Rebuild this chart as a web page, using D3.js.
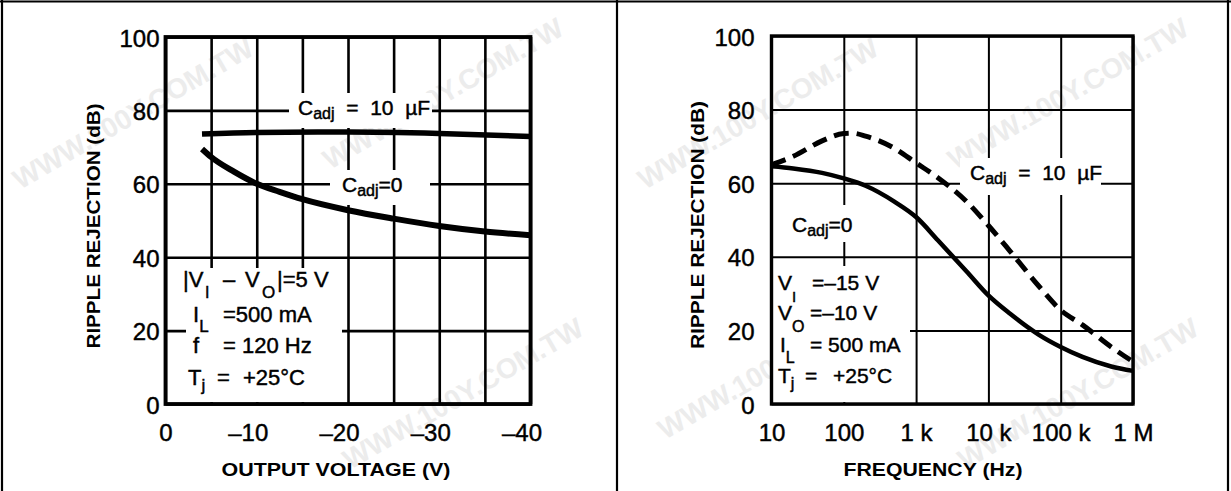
<!DOCTYPE html>
<html><head><meta charset="utf-8">
<script src="https://cdn.jsdelivr.net/npm/d3@7"></script>
<style>
body{margin:0;background:#fff}
svg{display:block}
text{font-family:"Liberation Sans",Arial,Helvetica,sans-serif;fill:#000}
.thick text, text.thick{stroke:#000;stroke-width:0.45px}
</style>
</head><body>
<svg id="c" width="1231" height="491"></svg>
<script>
// ---------------- DATA ----------------
const yTicks = [0, 20, 40, 60, 80, 100];
const voltGrid = [0, -5, -10, -15, -20, -25, -30, -35, -40];
const voltTicks = [0, -10, -20, -30, -40];
const voltTickLabels = ["0", "\u201310", "\u201320", "\u201330", "\u201340"];
// Left chart: ripple rejection vs output voltage
const volt10uF = [-4, -10, -20, -30, -40];
const rej10uF_V = [73.6, 74.0, 74.1, 73.7, 72.9];
const voltC0 = [-4, -5, -7.5, -10, -12.5, -15, -20, -25, -30, -35, -40];
const rejC0_V = [69.5, 67.3, 63.3, 60.0, 57.8, 55.8, 52.8, 50.5, 48.5, 47.0, 46.0];
// Right chart: ripple rejection vs frequency
const freqTicks = [10, 100, 1e3, 1e4, 1e5, 1e6];
const freqTickLabels = ["10", "100", "1 k", "10 k", "100 k", "1 M"];
const freqC0 = [10, 20, 50, 100, 200, 500, 1e3, 2e3, 5e3, 1e4, 2e4, 5e4, 1e5, 2e5, 5e5, 1e6];
const rejC0_F = [64.6, 64.0, 62.8, 61.3, 59.3, 55.0, 50.8, 44.5, 36.0, 29.5, 24.5, 18.8, 15.5, 12.8, 10.2, 9.0];
const freq10uF = [10, 20, 50, 100, 130, 200, 500, 1e3, 2e3, 5e3, 1e4, 2e4, 5e4, 1e5, 2e5, 5e5, 1e6];
const rej10uF_F = [65.0, 67.3, 71.5, 73.5, 73.6, 72.8, 69.5, 65.5, 61.5, 55.0, 48.5, 41.5, 32.0, 25.5, 21.5, 15.5, 11.5];
const yTitle = "RIPPLE REJECTION (dB)";
const xTitleL = "OUTPUT VOLTAGE (V)";
const xTitleR = "FREQUENCY (Hz)";
const watermark = "WWW.100Y.COM.TW";

// ---------------- DRAW ----------------
const W = 1231, H = 491;
const svg = d3.select("#c");
svg.append("rect").attr("width", W).attr("height", H).attr("fill", "#fff");

const layerWm = svg.append("g");
const layerGrid = svg.append("g");
const layerMask = svg.append("g");
const layerCurves = svg.append("g");
const layerFrame = svg.append("g");
const layerText = svg.append("g").attr("class", "thick");
const layerTitles = svg.append("g");

function rich(g, x, y, parts, fs) {
  const t = g.append("text").attr("x", x).attr("y", y)
    .style("font-size", fs + "px").style("white-space", "pre");
  let cur = 0;
  parts.forEach(p => {
    const off = p.dy || 0;
    const ts = t.append("tspan").text(p.t).attr("dy", off - cur);
    if (p.x !== undefined) ts.attr("x", p.x);
    if (p.fs) ts.style("font-size", p.fs + "px");
    cur = off;
  });
  return t;
}
function mask(x0, y0, x1, y1) {
  layerMask.append("rect").attr("x", x0).attr("y", y0)
    .attr("width", x1 - x0).attr("height", y1 - y0).attr("fill", "#fff");
}

// ===== WATERMARK (faint, fully inside) =====
layerWm.style("font-family", "'Liberation Serif','Times New Roman',serif")
  .style("font-weight", "bold").style("font-size", "28px");
[[20, 190], [330, 170], [350, 470], [645, 190], [955, 170], [665, 440], [965, 470]]
  .forEach(p => {
    layerWm.append("text").attr("transform", `translate(${p[0]},${p[1]}) rotate(-30)`)
      .style("fill", "#ececec").text(watermark);
  });

// ===== LEFT PANEL =====
const xV = d3.scaleLinear().domain([0, -40]).range([165.5, 530.5]);
const yL = d3.scaleLinear().domain([0, 100]).range([404, 37]);
const hL = yL(0) - yL(100), wL = xV(-40) - xV(0);

layerGrid.append("g").attr("transform", `translate(0,${yL(0)})`)
  .call(d3.axisBottom(xV).tickValues(voltGrid).tickSize(-hL).tickFormat(""))
  .call(g => g.select(".domain").remove())
  .call(g => g.selectAll("line").attr("stroke", "#000").attr("stroke-width", 2.6));
layerGrid.append("g").attr("transform", `translate(${xV(0)},0)`)
  .call(d3.axisLeft(yL).tickValues(yTicks).tickSize(-wL).tickFormat(""))
  .call(g => g.select(".domain").remove())
  .call(g => g.selectAll("line").attr("stroke", "#000").attr("stroke-width", 2.6));

mask(289, 93, 432, 128);
mask(330, 170, 430, 205);
mask(186, 268, 342, 402);

layerText.append("g").attr("transform", `translate(${xV(0)},0)`)
  .call(d3.axisLeft(yL).tickValues(yTicks).tickSize(0).tickPadding(6))
  .call(g => g.select(".domain").remove())
  .call(g => g.selectAll("text").style("font-size", "24px").attr("dy", "0.38em"));
layerText.append("g").attr("transform", `translate(0,${yL(0)})`)
  .call(d3.axisBottom(xV).tickValues(voltTicks).tickSize(0).tickPadding(20)
    .tickFormat((d, i) => voltTickLabels[i]))
  .call(g => g.select(".domain").remove())
  .call(g => g.selectAll("text").style("font-size", "24px").attr("dx", d => d < 0 ? -9 : 0));

const lineV = d3.line().x(d => xV(d[0])).y(d => yL(d[1])).curve(d3.curveMonotoneX);
layerCurves.append("path").datum(d3.zip(volt10uF, rej10uF_V)).attr("d", lineV)
  .attr("fill", "none").attr("stroke", "#000").attr("stroke-width", 5.5);
layerCurves.append("path").datum(d3.zip(voltC0, rejC0_V)).attr("d", lineV)
  .attr("fill", "none").attr("stroke", "#000").attr("stroke-width", 6);

layerFrame.append("rect").attr("x", xV(0)).attr("y", yL(100)).attr("width", wL).attr("height", hL)
  .attr("fill", "none").attr("stroke", "#000").attr("stroke-width", 3.8);

rich(layerText, 298, 115, [{t: "C"}, {t: "adj", dy: 4, fs: 16}, {t: "  =  10  \u00b5F"}], 21);
rich(layerText, 342, 192, [{t: "C"}, {t: "adj", dy: 4, fs: 16}, {t: "=0"}], 21);
rich(layerText, 183, 287, [{t: "|V"}, {t: "I", dy: 11, fs: 16, x: 205}, {t: "\u2013", x: 223},
  {t: "V", x: 245}, {t: "O", dy: 11, fs: 17, x: 262}, {t: "|=5 V", x: 277}], 22);
rich(layerText, 193, 322, [{t: "I"}, {t: "L", dy: 10, fs: 17}, {t: "=500 mA", x: 223}], 22);
rich(layerText, 193, 353, [{t: "f"}, {t: "= 120 Hz", x: 223}], 22);
rich(layerText, 188, 385, [{t: "T"}, {t: "j", dy: 6, fs: 17}, {t: "=", x: 217}, {t: "+25\u00b0C", x: 243}], 22);

layerTitles.append("text").attr("x", 336).attr("y", 476).attr("text-anchor", "middle")
  .style("font-size", "18px").style("font-weight", "bold")
  .attr("textLength", 229).attr("lengthAdjust", "spacingAndGlyphs").text(xTitleL);
layerTitles.append("text").attr("transform", "translate(94,226) rotate(-90)").attr("text-anchor", "middle")
  .attr("dy", "0.36em").style("font-size", "18px").style("font-weight", "bold")
  .attr("textLength", 245).attr("lengthAdjust", "spacingAndGlyphs").text(yTitle);

// ===== RIGHT PANEL =====
const xF = d3.scaleLog().domain([10, 1e6]).range([771.5, 1133]);
const yR = d3.scaleLinear().domain([0, 100]).range([404, 36]);
const hR = yR(0) - yR(100), wR = xF(1e6) - xF(10);

layerGrid.append("g").attr("transform", `translate(0,${yR(0)})`)
  .call(d3.axisBottom(xF).tickValues(freqTicks).tickSize(-hR).tickFormat(""))
  .call(g => g.select(".domain").remove())
  .call(g => g.selectAll("line").attr("stroke", "#000").attr("stroke-width", 2));
layerGrid.append("g").attr("transform", `translate(${xF(10)},0)`)
  .call(d3.axisLeft(yR).tickValues(yTicks).tickSize(-wR).tickFormat(""))
  .call(g => g.select(".domain").remove())
  .call(g => g.selectAll("line").attr("stroke", "#000").attr("stroke-width", 2));

mask(960, 158, 1101, 195);
mask(785, 205, 868, 242);
mask(773, 266, 910, 402);

layerText.append("g").attr("transform", `translate(${xF(10)},0)`)
  .call(d3.axisLeft(yR).tickValues(yTicks).tickSize(0).tickPadding(17))
  .call(g => g.select(".domain").remove())
  .call(g => g.selectAll("text").style("font-size", "24px").attr("dy", "0.38em"));
layerText.append("g").attr("transform", `translate(0,${yR(0)})`)
  .call(d3.axisBottom(xF).tickValues(freqTicks).tickSize(0).tickPadding(20)
    .tickFormat((d, i) => freqTickLabels[i]))
  .call(g => g.select(".domain").remove())
  .call(g => g.selectAll("text").style("font-size", "24px"));

const lineF = d3.line().x(d => xF(d[0])).y(d => yR(d[1])).curve(d3.curveMonotoneX);
layerCurves.append("path").datum(d3.zip(freqC0, rejC0_F)).attr("d", lineF)
  .attr("fill", "none").attr("stroke", "#000").attr("stroke-width", 4.5);
layerCurves.append("path").datum(d3.zip(freq10uF, rej10uF_F)).attr("d", lineF)
  .attr("fill", "none").attr("stroke", "#000").attr("stroke-width", 5)
  .attr("stroke-dasharray", "15 8");

layerFrame.append("rect").attr("x", xF(10)).attr("y", yR(100)).attr("width", wR).attr("height", hR)
  .attr("fill", "none").attr("stroke", "#000").attr("stroke-width", 3.4);

rich(layerText, 970, 180, [{t: "C"}, {t: "adj", dy: 4, fs: 16}, {t: "  =  10  \u00b5F"}], 21);
rich(layerText, 792, 232, [{t: "C"}, {t: "adj", dy: 4, fs: 16}, {t: "=0"}], 21);
rich(layerText, 778, 290, [{t: "V"}, {t: "I", dy: 12, fs: 15}, {t: "=\u201315 V", x: 812}], 21);
rich(layerText, 778, 320, [{t: "V"}, {t: "O", dy: 12, fs: 16}, {t: "=\u201310 V", x: 810}], 21);
rich(layerText, 780, 352, [{t: "I"}, {t: "L", dy: 11, fs: 16}, {t: "= 500 mA", x: 810}], 21);
rich(layerText, 778, 383, [{t: "T"}, {t: "j", dy: 6, fs: 16}, {t: "=", x: 805}, {t: "+25\u00b0C", x: 833}], 21);

layerTitles.append("text").attr("x", 933).attr("y", 476).attr("text-anchor", "middle")
  .style("font-size", "18px").style("font-weight", "bold")
  .attr("textLength", 179).attr("lengthAdjust", "spacingAndGlyphs").text(xTitleR);
layerTitles.append("text").attr("transform", "translate(698,225) rotate(-90)").attr("text-anchor", "middle")
  .attr("dy", "0.36em").style("font-size", "18px").style("font-weight", "bold")
  .attr("textLength", 248).attr("lengthAdjust", "spacingAndGlyphs").text(yTitle);

// ===== OUTER FRAMES =====
[[0, 1.5, W, 1.5], [2, 0, 2, H], [617, 0, 617, H], [1228, 0, 1228, H]].forEach(l => {
  layerFrame.append("line").attr("x1", l[0]).attr("y1", l[1]).attr("x2", l[2]).attr("y2", l[3])
    .attr("stroke", "#000").attr("stroke-width", 2.2);
});
</script>
</body></html>
